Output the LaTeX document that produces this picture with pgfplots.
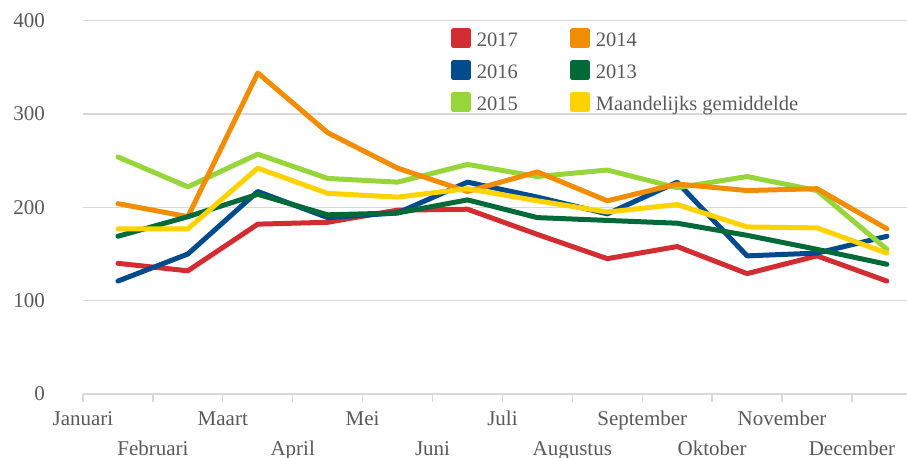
\documentclass[border=0pt]{standalone}
\usepackage{pgfplots}
\pgfplotsset{compat=1.18}
\usepackage{fontspec}
\setmainfont{Liberation Serif}
\definecolor{cA}{HTML}{D22D32}
\definecolor{cB}{HTML}{004B8D}
\definecolor{cC}{HTML}{97D63A}
\definecolor{cD}{HTML}{F28C00}
\definecolor{cE}{HTML}{006A38}
\definecolor{cF}{HTML}{FFD200}
\definecolor{gridgray}{HTML}{D9D9D9}
\definecolor{labelgray}{HTML}{595959}
\begin{document}
\begin{tikzpicture}
\begin{axis}[
  at={(0,0)}, anchor=south west,
  scale only axis, width=824bp, height=373.3bp,
  xmin=0, xmax=11.7875, ymin=0, ymax=400,
  axis line style={draw=none},
  xtick={0,...,11},
  xticklabels={Januari,\raisebox{-30bp}{Februari},Maart,\raisebox{-30bp}{April},Mei,\raisebox{-30bp}{Juni},Juli,\raisebox{-30bp}{Augustus},September,\raisebox{-30bp}{Oktober},November,\raisebox{-30bp}{December}},
  ytick={0,100,200,300,400},
  xtick pos=bottom, ytick pos=left,
  ymajorgrids, grid style={color=gridgray, line width=1.3bp},
  major tick length=8bp, tick align=outside,
  ytick style={draw=none},
  xtick style={color=gridgray, line width=1.3bp},
  tick label style={font=\fontsize{21bp}{25bp}\selectfont, text=labelgray},
  /pgf/number format/assume math mode=true,
  yticklabel style={anchor=east, inner sep=0pt, xshift=-30bp},
  xticklabel style={anchor=base, inner sep=0pt, yshift=-23bp},
  legend style={at={(0.4466,0.9800)}, anchor=north west, draw=none, fill=none,
    inner sep=0pt, outer sep=0pt, font=\fontsize{20.5bp}{24bp}\selectfont, text=labelgray,
    nodes={inner sep=0pt, text height=14bp, text depth=4bp},
    row sep=9.5bp,
    /tikz/every odd column/.append style={column sep=6bp},
    /tikz/every even column/.append style={column sep=52bp}},
  legend columns=2, legend cell align=left,
  legend image code/.code={\fill[#1] (0bp,-4bp) rectangle (15bp,11bp);},
  every axis plot/.append style={line width=5bp, line cap=round, line join=round},
]
\addlegendimage{color=cA}\addlegendentry{2017}
\addlegendimage{color=cD}\addlegendentry{2014}
\addlegendimage{color=cB}\addlegendentry{2016}
\addlegendimage{color=cE}\addlegendentry{2013}
\addlegendimage{color=cC}\addlegendentry{2015}
\addlegendimage{color=cF}\addlegendentry{Maandelijks gemiddelde}
% 2017
\addplot[color=cA, forget plot] coordinates {(0.5,140)(1.5,132)(2.5,182)(3.5,184)(4.5,197)(5.5,198)(6.5,171)(7.5,145)(8.5,158)(9.5,129)(10.5,148)(11.5,121)};
% 2016
\addplot[color=cB, forget plot] coordinates {(0.5,121)(1.5,150)(2.5,217)(3.5,189)(4.5,194)(5.5,227)(6.5,211)(7.5,193)(8.5,227)(9.5,148)(10.5,151)(11.5,169)};
% 2015
\addplot[color=cC, forget plot] coordinates {(0.5,254)(1.5,222)(2.5,257)(3.5,231)(4.5,227)(5.5,246)(6.5,233)(7.5,240)(8.5,221)(9.5,233)(10.5,218)(11.5,155)};
% 2014
\addplot[color=cD, forget plot] coordinates {(0.5,204)(1.5,190)(2.5,344)(3.5,280)(4.5,242)(5.5,217)(6.5,238)(7.5,207)(8.5,225)(9.5,218)(10.5,220)(11.5,177)};
% 2013
\addplot[color=cE, forget plot] coordinates {(0.5,169)(1.5,190)(2.5,214)(3.5,192)(4.5,194)(5.5,208)(6.5,189)(7.5,186)(8.5,183)(9.5,170)(10.5,155)(11.5,139)};
% Maandelijks gemiddelde
\addplot[color=cF, forget plot] coordinates {(0.5,177)(1.5,177)(2.5,242)(3.5,215)(4.5,211)(5.5,220)(6.5,207)(7.5,195)(8.5,203)(9.5,179)(10.5,178)(11.5,151)};
\end{axis}
\pgfresetboundingbox
\useasboundingbox (-83bp,-64bp) rectangle (824bp,394bp);
\end{tikzpicture}
\end{document}
